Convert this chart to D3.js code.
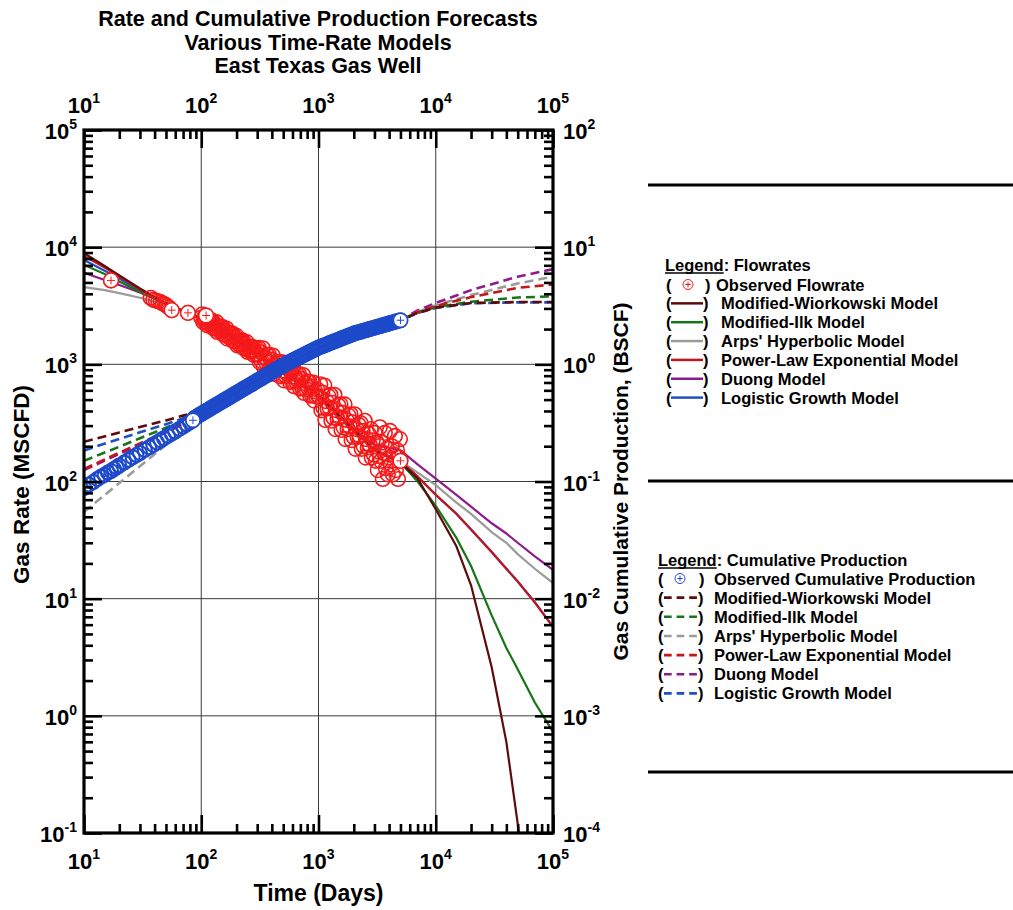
<!DOCTYPE html>
<html><head><meta charset="utf-8">
<script src="https://cdn.jsdelivr.net/npm/d3@7"></script>
<style>
body{margin:0;background:#fff}
text{font-family:"Liberation Sans",Arial,Helvetica,sans-serif;font-weight:bold;fill:#000}
</style>
</head><body>
<svg id="c" width="1013" height="910"></svg>
<script>
// ---------------- DATA ----------------
const titleLines = ["Rate and Cumulative Production Forecasts", "Various Time-Rate Models", "East Texas Gas Well"];
const xLabel = "Time (Days)";
const yLeftLabel = "Gas Rate (MSCFD)";
const yRightLabel = "Gas Cumulative Production, (BSCF)";
const xTickExps = [1, 2, 3, 4, 5];
const yLeftExps = [5, 4, 3, 2, 1, 0, -1];
const yRightExps = [2, 1, 0, -1, -2, -3, -4];

const modelNames = ["Modified-Wiorkowski Model", "Modified-Ilk Model", "Arps' Hyperbolic Model", "Power-Law Exponential Model", "Duong Model", "Logistic Growth Model"];
const modelColors = ["#5e0b0b", "#187418", "#9b9b9b", "#c3161c", "#8c1c8c", "#1f50c2"];
const legendRateTitle = ["Legend", ": Flowrates"];
const legendCumTitle = ["Legend", ": Cumulative Production"];
const obsRateName = "Observed Flowrate";
const obsCumName = "Observed Cumulative Production";

// observed flowrate [days, MSCFD]
const obsRate = [[17,5200],[37,3700],[39,3550],[41,3500],[43,3450],[45,3400],[47,3300],[49,3250],[51,3150],[53,3050],[56,2900],[77,2750],
[100,2500],[102,2670],[104,2300],[106,2520],[108,2330],[110,2610],[113,2145],[115,2350],[117,2190],[120,2375],[122,2215],[124,2360],[127,2030],[129,2230],[132,2045],[135,2290],[137,1890],[140,2070],[143,1925],[146,2105],[149,1960],[152,2080],[155,1790],[158,1950],[161,1800],[164,2020],[167,1660],[171,1820],[174,1690],[178,1845],[181,1715],[185,1825],[189,1570],[192,1715],[196,1570],
[200,1750],[204,1450],[208,1590],[212,1470],[217,1610],[221,1495],[225,1600],[230,1370],[234,1500],[239,1380],[244,1545],[249,1275],[254,1400],[259,1300],[264,1420],[269,1320],[275,1405],[280,1205],[286,1315],[291,1220],[297,1360],
[303,1220],[309,1380],[315,1045],[322,1265],[328,1065],[335,1370],[341,960],[348,1155],[355,1045],[362,1205],[370,1065],[377,1210],[385,910],[392,1095],[400,925],[408,1190],[416,830],[425,1000],[433,900],[442,1050],[451,925],[460,1050],[469,790],[478,960],[488,810],[497,1040],
[507,730],[518,880],[528,795],[538,930],[549,820],[560,930],[571,705],[583,855],[595,720],[607,930],[619,650],[631,785],[644,710],[657,820],[670,725],[683,825],[697,620],[711,750],[725,630],[740,810],[754,570],[770,690],[785,615],[801,715],[817,630],[833,710],[850,540],[867,650],[884,545],[902,700],[920,490],[938,590],[957,530],[976,610],[996,535],
[1016,530],[1036,675],[1057,405],[1078,575],[1100,425],[1122,660],[1144,335],[1167,485],[1190,420],[1214,535],[1238,430],[1263,550],[1288,330],[1314,470],[1340,350],[1367,550],[1395,280],[1423,405],[1451,345],[1480,445],[1510,355],[1540,455],[1571,275],[1602,385],[1634,290],[1667,455],[1700,230],[1734,335],[1769,280],[1804,365],[1840,295],[1877,375],[1915,225],[1953,320],[1992,240],
[2032,375],[2072,190],[2114,280],[2156,240],[2199,305],[2243,245],[2288,315],[2334,190],[2380,270],[2428,200],[2477,330],[2526,160],[2577,230],[2628,195],[2681,255],[2734,205],[2789,280],[2845,160],[2902,225],[2960,170],
[3019,260],[3079,150],[3141,215],[3204,125],[3268,180],[3333,290],[3400,150],[3468,215],[3537,105],[3608,175],[3680,260],[3754,130],[3829,190],[3905,115],[3983,160],[4063,270],[4144,140],[4227,200],[4312,115],[4398,170],[4486,245],[4576,125],[4667,185],[4761,105],[4856,160],[4953,230],[5000,150]];
// flowrate points shown with a crossed marker
const obsRateMarked = [[17,5200],[56,2900],[77,2750],[110,2610],[5000,150]];

// observed cumulative production [days, BSCF]
const obsCum = [[10,0.088],[11,0.094],[12,0.099],[13,0.105],[14,0.110],[15,0.114],[16,0.119],[17,0.123],[18,0.128],[19,0.132],[20,0.137],[22,0.145],[24,0.153],[26,0.161],[28,0.168],[30,0.175],[33,0.186],[36,0.196],[39,0.206],[42,0.215],[45,0.225],[48,0.234],[52,0.245],[56,0.256],[60,0.267],[65,0.281],[70,0.294],[75,0.307],[80,0.320],[85,0.333],
[88,0.350],[92,0.358],[95,0.367],[99,0.375],[103,0.384],[107,0.393],[111,0.402],[116,0.412],[120,0.421],[125,0.431],[130,0.441],[135,0.452],[141,0.462],[146,0.473],[152,0.484],[158,0.496],[165,0.507],[171,0.519],[178,0.531],[185,0.544],[193,0.557],[200,0.570],
[208,0.583],[217,0.597],[225,0.611],[234,0.625],[244,0.640],[254,0.655],[264,0.670],[274,0.686],[285,0.702],[297,0.719],[309,0.736],[321,0.753],[334,0.771],[347,0.789],[361,0.807],[375,0.826],[390,0.846],[406,0.866],[422,0.886],[439,0.907],[457,0.928],[475,0.950],[494,0.972],[514,0.995],
[534,1.015],[556,1.035],[578,1.055],[601,1.076],[625,1.098],[650,1.119],[676,1.142],[703,1.164],[731,1.187],[760,1.211],[791,1.235],[822,1.260],[855,1.285],[890,1.310],[925,1.336],[962,1.363],[1001,1.390],
[1041,1.411],[1082,1.433],[1126,1.456],[1171,1.478],[1218,1.502],[1266,1.525],[1317,1.549],[1370,1.573],[1424,1.597],[1481,1.622],[1541,1.648],[1602,1.673],[1666,1.699],[1733,1.726],[1802,1.753],[1874,1.780],[1949,1.808],[2027,1.836],
[2108,1.857],[2193,1.878],[2280,1.899],[2372,1.921],[2466,1.943],[2565,1.965],[2668,1.987],[2774,2.009],[2885,2.032],[3000,2.055],[3121,2.079],[3245,2.102],[3375,2.126],[3510,2.150],[3651,2.175],[3797,2.199],[3949,2.224],[4106,2.249],[4271,2.275],[4441,2.301],[4619,2.327],[4804,2.353],[5000,2.380]];
const obsCumMarked = [[85,0.333],[5000,2.380]];

// rate models (days, MSCFD)
const rateModelT = [10, 15, 20, 30, 50, 70, 100, 200, 500, 1000, 2000, 3000, 5000, 7000, 10000, 15000, 20000, 30000, 40000, 50000, 70000, 100000];
const rateWiorkowski = [8900, 6900, 5750, 4450, 3300, 2850, 2450, 1620, 860, 545, 275, 185, 145, 106, 58, 28, 13, 2.6, 0.6, 0.12, 0.008, 0.0005];
const rateIlk = [7060, 5900, 5100, 4150, 3300, 2840, 2440, 1620, 860, 545, 275, 185, 145, 100, 62, 33, 19, 7.2, 3.8, 2.5, 1.3, 0.73];
const rateArps = [4560, 4300, 4050, 3700, 3250, 2820, 2430, 1610, 860, 545, 275, 185, 150, 119, 93, 66, 53, 37, 30, 24, 18, 13.6];
const ratePLE = [8400, 6700, 5600, 4350, 3300, 2850, 2450, 1620, 860, 545, 275, 185, 150, 110, 77, 53, 39, 25, 18, 14, 9.3, 5.75];
const rateDuong = [6050, 5250, 4750, 4100, 3300, 2840, 2440, 1620, 860, 545, 280, 205, 185, 140, 106, 77, 61, 44, 36, 30, 23, 17.6];
const rateLogistic = [7780, 6300, 5400, 4250, 3300, 2840, 2440, 1620, 860, 545, 275, 185, 150, 110, 77, 53, 39, 25, 18, 14, 9.3, 5.75];

// cumulative models (days, BSCF)
const cumModelT = [10, 20, 30, 50, 70, 100, 200, 500, 1000, 2000, 5000, 7000, 10000, 20000, 50000, 100000];
const cumWiorkowski = [0.218, 0.262, 0.292, 0.332, 0.365, 0.40, 0.57, 0.98, 1.39, 1.83, 2.38, 2.75, 3.05, 3.34, 3.40, 3.40];
const cumIlk = [0.150, 0.198, 0.234, 0.288, 0.329, 0.38, 0.57, 0.98, 1.39, 1.83, 2.38, 2.76, 3.08, 3.42, 3.72, 3.80];
const cumArps = [0.055, 0.097, 0.135, 0.205, 0.270, 0.36, 0.57, 0.98, 1.39, 1.83, 2.38, 2.80, 3.20, 3.90, 4.90, 5.60];
const cumPLE = [0.128, 0.176, 0.211, 0.268, 0.313, 0.37, 0.57, 0.98, 1.39, 1.83, 2.38, 2.78, 3.15, 3.75, 4.50, 4.80];
const cumDuong = [0.125, 0.172, 0.207, 0.263, 0.308, 0.365, 0.57, 0.98, 1.39, 1.83, 2.40, 2.88, 3.34, 4.30, 5.60, 6.50];
const cumLogistic = [0.184, 0.231, 0.263, 0.308, 0.346, 0.39, 0.57, 0.98, 1.39, 1.83, 2.38, 2.74, 3.03, 3.32, 3.38, 3.38];

// ---------------- DRAWING ----------------
const rateModels = [rateWiorkowski, rateIlk, rateArps, ratePLE, rateDuong, rateLogistic];
const cumModels = [cumWiorkowski, cumIlk, cumArps, cumPLE, cumDuong, cumLogistic];
const drawOrder = [5, 4, 2, 1, 3, 0];
const RED = "#f51a1a", BLUE = "#1d4acb";

const svg = d3.select("#c");
const X0 = 84, X1 = 553, Y0 = 130, Y1 = 833;
const x = d3.scaleLog().domain([10, 1e5]).range([X0, X1]);
const yL = d3.scaleLog().domain([0.1, 1e5]).range([Y1, Y0]);
const yR = d3.scaleLog().domain([1e-4, 1e2]).range([Y1, Y0]);

const majors = s => { const [a, b] = s.domain(); const out = []; for (let e = Math.round(Math.log10(a)); e <= Math.round(Math.log10(b)); e++) out.push(Math.pow(10, e)); return out; };
const minors = s => { const out = []; const m = majors(s); for (let i = 0; i < m.length - 1; i++) for (let k = 2; k <= 9; k++) out.push(m[i] * k); return out; };

svg.append("defs").append("clipPath").attr("id", "clip").append("rect")
  .attr("x", X0).attr("y", Y0).attr("width", X1 - X0).attr("height", Y1 - Y0);

svg.append("g").selectAll("text").data(titleLines).join("text")
  .attr("x", 318).attr("y", (d, i) => 26 + i * 23.5).attr("text-anchor", "middle")
  .style("font-size", "21.5px").text(d => d);

const grid = svg.append("g").attr("stroke", "#3a3a3a").attr("stroke-width", 1);
grid.selectAll(".gx").data(majors(x)).join("line").attr("class", "gx")
  .attr("x1", d => x(d)).attr("x2", d => x(d)).attr("y1", Y0).attr("y2", Y1);
grid.selectAll(".gy").data(majors(yL)).join("line").attr("class", "gy")
  .attr("y1", d => yL(d)).attr("y2", d => yL(d)).attr("x1", X0).attr("x2", X1);

const plot = svg.append("g").attr("clip-path", "url(#clip)");

const lineR = d3.line().x(d => x(d[0])).y(d => yR(d[1]));
const lineL = d3.line().x(d => x(d[0])).y(d => yL(d[1]));
drawOrder.forEach(i => {
  plot.append("path").datum(d3.zip(cumModelT, cumModels[i]))
    .attr("d", lineR).attr("fill", "none").attr("stroke", modelColors[i])
    .attr("stroke-width", 2.6).attr("stroke-dasharray", "9,5");
});
drawOrder.forEach(i => {
  plot.append("path").datum(d3.zip(rateModelT, rateModels[i]))
    .attr("d", lineL).attr("fill", "none").attr("stroke", modelColors[i])
    .attr("stroke-width", 2.2);
});

function marker(g, cx, cy, r, color, sw) {
  const m = g.append("g").attr("transform", `translate(${cx},${cy})`);
  m.append("circle").attr("r", r).attr("fill", "#fff").attr("stroke", color).attr("stroke-width", sw);
  m.append("path").attr("d", `M${-r * 0.55},0H${r * 0.55}M0,${-r * 0.55}V${r * 0.55}`)
    .attr("stroke", color).attr("stroke-width", 1);
}
plot.append("g").selectAll("circle").data(obsRate).join("circle")
  .attr("cx", d => x(d[0])).attr("cy", d => yL(d[1])).attr("r", 7.3)
  .attr("fill", "none").attr("stroke", RED).attr("stroke-width", 1.6);
plot.append("g").selectAll("circle").data(obsCum).join("circle")
  .attr("cx", d => x(d[0])).attr("cy", d => yR(d[1])).attr("r", 7)
  .attr("fill", "none").attr("stroke", BLUE).attr("stroke-width", 2.1);
const mk = plot.append("g");
obsRateMarked.forEach(d => marker(mk, x(d[0]), yL(d[1]), 7.3, RED, 1.4));
obsCumMarked.forEach(d => marker(mk, x(d[0]), yR(d[1]), 7, BLUE, 1.4));

function styleAxis(g) {
  g.select(".domain").remove();
  g.selectAll(".tick text").remove();
  g.selectAll(".tick line").attr("stroke", "#000").attr("stroke-width", 2.6);
}
function addAxis(axisFn, scale, tr) {
  svg.append("g").attr("transform", tr)
    .call(axisFn(scale).tickValues(majors(scale)).tickSizeInner(-18).tickSizeOuter(0).tickFormat(""))
    .call(styleAxis);
  svg.append("g").attr("transform", tr)
    .call(axisFn(scale).tickValues(minors(scale)).tickSizeInner(-9).tickSizeOuter(0).tickFormat(""))
    .call(styleAxis);
}
addAxis(d3.axisBottom, x, `translate(0,${Y1})`);
addAxis(d3.axisTop, x, `translate(0,${Y0})`);
addAxis(d3.axisLeft, yL, `translate(${X0},0)`);
addAxis(d3.axisRight, yR, `translate(${X1},0)`);

svg.append("rect").attr("x", X0).attr("y", Y0).attr("width", X1 - X0).attr("height", Y1 - Y0)
  .attr("fill", "none").attr("stroke", "#000").attr("stroke-width", 3.2);

function expLabel(px, py, exp, anchor) {
  const t = svg.append("text").attr("x", px).attr("y", py).attr("text-anchor", anchor).style("font-size", "22px");
  t.append("tspan").text("10");
  t.append("tspan").attr("dy", -10).style("font-size", "14px").text(exp);
}
xTickExps.forEach(e => { expLabel(x(Math.pow(10, e)), 113, e, "middle"); expLabel(x(Math.pow(10, e)), 869, e, "middle"); });
yLeftExps.forEach(e => expLabel(77, yL(Math.pow(10, e)) + 9, e, "end"));
yRightExps.forEach(e => expLabel(563, yR(Math.pow(10, e)) + 9, e, "start"));

svg.append("text").attr("x", (X0 + X1) / 2).attr("y", 901).attr("text-anchor", "middle").style("font-size", "23px").text(xLabel);
svg.append("text").attr("transform", `translate(29,${(Y0 + Y1) / 2 + 3}) rotate(-90)`).attr("text-anchor", "middle").style("font-size", "22.5px").text(yLeftLabel);
svg.append("text").attr("transform", `translate(628,${(Y0 + Y1) / 2}) rotate(-90)`).attr("text-anchor", "middle").style("font-size", "21px").text(yRightLabel);

svg.append("g").selectAll("line").data([185, 481, 772]).join("line")
  .attr("x1", 648).attr("x2", 1013).attr("y1", d => d).attr("y2", d => d)
  .attr("stroke", "#000").attr("stroke-width", 3);

const LFS = "16.5px";
function legendHeader(lx, cy, parts) {
  const a = svg.append("text").attr("x", lx).attr("y", cy + 6).style("font-size", LFS).text(parts[0]);
  const w = a.node().getComputedTextLength();
  svg.append("line").attr("x1", lx).attr("x2", lx + w).attr("y1", cy + 8).attr("y2", cy + 8).attr("stroke", "#000").attr("stroke-width", 1.4);
  svg.append("text").attr("x", lx + w).attr("y", cy + 6).style("font-size", LFS).text(parts[1]);
}
function ltext(px, cy, s) { svg.append("text").attr("x", px).attr("y", cy + 6).style("font-size", LFS).text(s); }

legendHeader(665, 265, legendRateTitle);
{
  const c0 = 284.5, dy = 18.85;
  ltext(666, c0, "("); marker(svg, 688, c0, 5, RED, 1); ltext(705, c0, ")"); ltext(716, c0, obsRateName);
  modelNames.forEach((n, i) => {
    const cy = c0 + dy * (i + 1);
    ltext(666, cy, "(");
    svg.append("line").attr("x1", 671).attr("x2", 703).attr("y1", cy).attr("y2", cy).attr("stroke", modelColors[i]).attr("stroke-width", 2.5);
    ltext(703, cy, ")");
    ltext(721, cy, n);
  });
}
legendHeader(658, 560, legendCumTitle);
{
  const c0 = 578.5, dy = 19.15;
  ltext(658, c0, "("); marker(svg, 680, c0, 5, BLUE, 1); ltext(699, c0, ")"); ltext(714, c0, obsCumName);
  modelNames.forEach((n, i) => {
    const cy = c0 + dy * (i + 1);
    ltext(658, cy, "(");
    svg.append("line").attr("x1", 664).attr("x2", 697).attr("y1", cy).attr("y2", cy).attr("stroke", modelColors[i]).attr("stroke-width", 2.6).attr("stroke-dasharray", "7.7,4.9");
    ltext(698, cy, ")");
    ltext(714, cy, n);
  });
}
</script>
</body></html>
